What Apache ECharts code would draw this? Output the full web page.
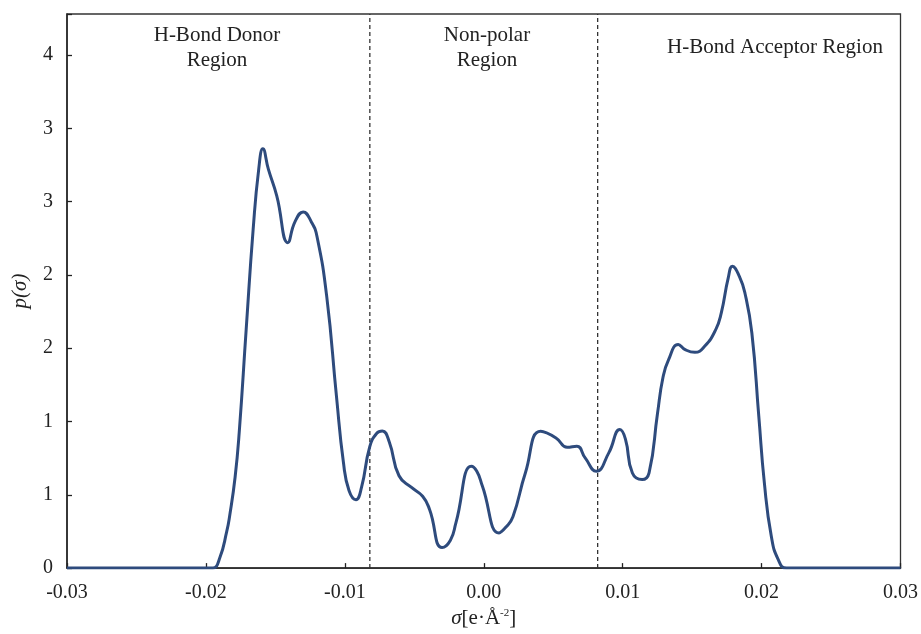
<!DOCTYPE html>
<html>
<head>
<meta charset="utf-8">
<script src="https://cdn.jsdelivr.net/npm/echarts@6/dist/echarts.min.js"></script>
<style>html,body{margin:0;padding:0;background:#fff;}#c{width:921px;height:634px;}</style>
</head>
<body>
<div id="c"></div>
<script>
// sigma [e/Å^2]
const sigma = [-0.03, -0.0200, -0.0195, -0.0190, -0.0185, -0.0183, -0.0179, -0.0176, -0.0171, -0.0166,
  -0.0162, -0.0159, -0.0155, -0.0149, -0.0141, -0.0136, -0.0130, -0.0124, -0.0120, -0.0113,
  -0.0106, -0.0101, -0.0097, -0.0092, -0.0088, -0.0082, -0.0077, -0.0073, -0.0068, -0.0061,
  -0.0052, -0.0044, -0.0039, -0.0030, -0.0024, -0.0020, -0.0009, -0.0005, -0.0001, 0.0011,
  0.0016, 0.0021, 0.0030, 0.0041, 0.0052, 0.0060, 0.0067, 0.0073, 0.0081, 0.0090,
  0.0098, 0.0102, 0.0107, 0.0114, 0.0119, 0.0125, 0.0129, 0.0133, 0.0140, 0.0145,
  0.0152, 0.0159, 0.0167, 0.0171, 0.0176, 0.0179, 0.0184, 0.0188, 0.0193, 0.0198,
  0.0202, 0.0207, 0.0212, 0.0218, 0.03];
// p(sigma)
const pSigma = [0, 0, 0, 0.07, 0.25, 0.35, 0.62, 0.93, 1.63, 2.31,
  2.72, 2.86, 2.72, 2.54, 2.22, 2.36, 2.43, 2.36, 2.26, 1.85,
  1.17, 0.72, 0.53, 0.467, 0.55, 0.83, 0.92, 0.935, 0.86, 0.63,
  0.55, 0.49, 0.40, 0.14, 0.19, 0.31, 0.694, 0.66, 0.56, 0.24,
  0.28, 0.35, 0.65, 0.933, 0.888, 0.824, 0.831, 0.752, 0.66, 0.786,
  0.945, 0.88, 0.649, 0.604, 0.65, 1.05, 1.30, 1.42, 1.525, 1.49,
  1.472, 1.513, 1.627, 1.741, 1.98, 2.059, 1.99, 1.877, 1.604, 1.035,
  0.581, 0.217, 0.058, 0, 0];
const cutoffs = [-0.0082, 0.0082];
const regionLabels = ['H-Bond Donor\nRegion', 'Non-polar\nRegion', 'H-Bond Acceptor Region'];

const serif = '"Liberation Serif", "Times New Roman", serif';
const yMax = 3.78;
const chart = echarts.init(document.getElementById('c'));
const data = sigma.map((s, i) => [s, pSigma[i]]);

const cutoffSeries = cutoffs.map(c => ({
  type: 'line', data: [[c, 0], [c, yMax]], showSymbol: false, silent: true,
  lineStyle: { color: '#333', type: [4, 3], width: 1.3 }, z: 2
}));

chart.setOption({
  animation: false,
  grid: { left: 67, right: 19, top: 14, bottom: 65.5, show: true, borderColor: '#333', borderWidth: 1.3, backgroundColor: 'transparent' },
  xAxis: {
    type: 'value', min: -0.03, max: 0.03, interval: 0.01,
    name: '{i|σ}{n|[e·Å}{s|-2}{n|]}', nameLocation: 'middle', nameGap: 35,
    nameTextStyle: {
      rich: {
        i: { fontFamily: serif, fontSize: 21, fontStyle: 'italic', color: '#222' },
        n: { fontFamily: serif, fontSize: 21, color: '#222' },
        s: { fontFamily: serif, fontSize: 11, color: '#222', verticalAlign: 'top', padding: [0, 0, 9, 0] }
      }
    },
    axisLine: { onZero: false, lineStyle: { color: '#222', width: 1.5 } },
    axisTick: { inside: true, length: 5, lineStyle: { color: '#222', width: 1.3 } },
    axisLabel: { margin: 15, fontFamily: serif, fontSize: 20, color: '#222',
      formatter: v => v.toFixed(2) },
    splitLine: { show: false }
  },
  yAxis: {
    type: 'value', min: 0, max: yMax, interval: 0.5,
    name: 'p(σ)', nameLocation: 'middle', nameGap: 36,
    nameTextStyle: { fontFamily: serif, fontSize: 21, fontStyle: 'italic', color: '#222' },
    axisLine: { show: true, onZero: false, lineStyle: { color: '#222', width: 1.5 } },
    axisTick: { show: true, inside: true, length: 5, lineStyle: { color: '#222', width: 1.3 } },
    axisLabel: { margin: 14, fontFamily: serif, fontSize: 20, color: '#222',
      formatter: v => (Math.abs(v * 2 - Math.round(v * 2)) < 1e-6 ? String(Math.round(v)) : '') },
    splitLine: { show: false }
  },
  series: cutoffSeries.concat([{
    type: 'line', data: data, smooth: 0.5, showSymbol: false, silent: true,
    lineStyle: { color: '#2e4b7d', width: 3 },
    z: 3
  }]),
  graphic: [
    { type: 'text', x: 217, y: 48, style: { text: regionLabels[0], textAlign: 'center', textVerticalAlign: 'middle', font: '21px ' + serif, lineHeight: 25, fill: '#222' } },
    { type: 'text', x: 487, y: 48, style: { text: regionLabels[1], textAlign: 'center', textVerticalAlign: 'middle', font: '21px ' + serif, lineHeight: 25, fill: '#222' } },
    { type: 'text', x: 775, y: 47, style: { text: regionLabels[2], textAlign: 'center', textVerticalAlign: 'middle', font: '21px ' + serif, lineHeight: 25, fill: '#222' } }
  ]
});
</script>
</body>
</html>
